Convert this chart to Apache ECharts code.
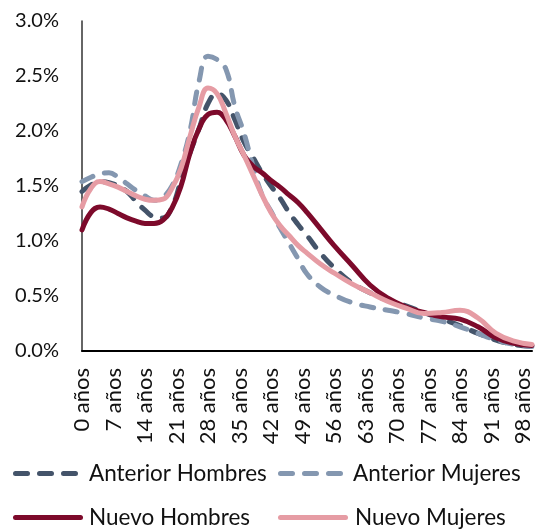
<!DOCTYPE html>
<html>
<head>
<meta charset="utf-8">
<script src="https://cdn.jsdelivr.net/npm/echarts@6/dist/echarts.min.js"></script>
<style>
  html, body { margin: 0; padding: 0; background: #fff; }
  #chart { width: 538px; height: 531px; }
</style>
</head>
<body>
<div id="chart"></div>
<script>
// Age (years) at which each profile value is given
const ages = [0, 2, 4, 6, 8, 10, 12, 14, 16, 18, 20, 22, 24, 26, 28, 30, 32, 34, 36, 38,
  40, 42, 44, 46, 48, 50, 53, 56, 60, 64, 68, 72, 76, 80, 84, 88, 92, 96, 100];

// Share of the population at each age (%)
const anteriorHombres = [1.45, 1.51, 1.54, 1.53, 1.50, 1.45, 1.36, 1.28, 1.22, 1.21, 1.31, 1.55, 1.80, 2.02, 2.25, 2.34, 2.28, 2.10, 1.90, 1.76,
  1.62, 1.50, 1.39, 1.26, 1.15, 1.05, 0.89, 0.76, 0.62, 0.53, 0.46, 0.41, 0.35, 0.29, 0.23, 0.16, 0.10, 0.06, 0.04];
const anteriorMujeres = [1.54, 1.58, 1.61, 1.62, 1.58, 1.52, 1.46, 1.41, 1.37, 1.40, 1.50, 1.70, 2.00, 2.45, 2.68, 2.65, 2.56, 2.22, 1.98, 1.68,
  1.42, 1.27, 1.12, 0.98, 0.84, 0.70, 0.58, 0.51, 0.44, 0.40, 0.37, 0.34, 0.30, 0.27, 0.22, 0.16, 0.10, 0.06, 0.04];
const nuevoHombres = [1.10, 1.26, 1.31, 1.29, 1.25, 1.21, 1.18, 1.16, 1.16, 1.19, 1.30, 1.50, 1.80, 2.02, 2.15, 2.17, 2.10, 1.95, 1.78, 1.68,
  1.62, 1.55, 1.49, 1.42, 1.35, 1.26, 1.11, 0.96, 0.78, 0.60, 0.48, 0.40, 0.35, 0.31, 0.29, 0.22, 0.12, 0.07, 0.05];
const nuevoMujeres = [1.31, 1.48, 1.54, 1.52, 1.49, 1.45, 1.41, 1.38, 1.37, 1.38, 1.48, 1.66, 1.95, 2.22, 2.39, 2.34, 2.16, 1.95, 1.78, 1.60,
  1.42, 1.26, 1.14, 1.05, 0.96, 0.89, 0.79, 0.71, 0.61, 0.53, 0.45, 0.39, 0.34, 0.35, 0.37, 0.30, 0.16, 0.09, 0.06];

const seriesNames = ['Anterior Hombres', 'Anterior Mujeres', 'Nuevo Hombres', 'Nuevo Mujeres'];
const seriesValues = [anteriorHombres, anteriorMujeres, nuevoHombres, nuevoMujeres];
const seriesColors = ['#44546A', '#8497B0', '#7D0A2B', '#E69CA4'];
const seriesDashed = [true, true, false, false];

const FONT = 'Lato';

// rounded stroke segment from x0 to x1, 5 units thick
function capsule(x0, x1) {
  const r = 2.5;
  return 'M' + (x0 + r) + ' 0 H' + (x1 - r) + ' A' + r + ' ' + r + ' 0 0 1 ' + (x1 - r) + ' 5 H' + (x0 + r) +
    ' A' + r + ' ' + r + ' 0 0 1 ' + (x0 + r) + ' 0 Z';
}
const dashedIcon = 'path://' + capsule(0, 17) + ' ' + capsule(24, 41) + ' ' + capsule(48, 65);
const solidIcon = 'path://' + capsule(0, 70);

const series = seriesNames.map((name, i) => ({
  name: name,
  type: 'line',
  smooth: 0.45,
  showSymbol: false,
  symbol: 'none',
  data: ages.map((a, k) => [a, seriesValues[i][k]]),
  lineStyle: {
    color: seriesColors[i],
    width: 5,
    type: seriesDashed[i] ? [12, 12] : 'solid',
    cap: 'round',
    join: 'round'
  },
  itemStyle: { color: seriesColors[i] },
  emphasis: { disabled: true }
}));

// one legend block per entry so the two columns line up
const legendPos = [
  { left: 13, top: 462, textPad: 6 },
  { left: 278, top: 462, textPad: 5 },
  { left: 13, top: 506, textPad: 1 },
  { left: 278, top: 506, textPad: 2 }
];
const legends = seriesNames.map((name, i) => ({
  data: [name],
  left: legendPos[i].left,
  top: legendPos[i].top,
  padding: 0,
  icon: seriesDashed[i] ? dashedIcon : solidIcon,
  itemWidth: seriesDashed[i] ? 65 : 70,
  itemHeight: 5,
  itemGap: 0,
  selectedMode: false,
  textStyle: { fontFamily: FONT, fontSize: 22.5, color: '#111', padding: [0, 0, 0, legendPos[i].textPad] }
}));

const chart = echarts.init(document.getElementById('chart'), null, { renderer: 'canvas' });
chart.setOption({
  animation: false,
  backgroundColor: '#fff',
  grid: { left: 82, right: 6, top: 21, bottom: 180, containLabel: false },
  legend: legends,
  xAxis: {
    type: 'value',
    min: 0,
    max: 100,
    interval: 7,
    axisLine: { show: true, onZero: false, lineStyle: { color: '#000', width: 2 } },
    axisTick: { show: false },
    splitLine: { show: false },
    axisLabel: {
      rotate: 90,
      margin: 17,
      showMaxLabel: false,
      fontFamily: FONT,
      fontSize: 22,
      color: '#111',
      padding: [14, 0, 0, 0],
      formatter: v => v + ' años'
    }
  },
  yAxis: {
    type: 'value',
    min: 0,
    max: 3,
    interval: 0.5,
    axisLine: { show: true, lineStyle: { color: '#333', width: 1.5 } },
    axisTick: { show: false },
    splitLine: { show: false },
    axisLabel: {
      margin: 23,
      fontFamily: FONT,
      fontSize: 20,
      color: '#111',
      formatter: v => v.toFixed(1) + '%'
    }
  },
  series: series
});
</script>
</body>
</html>
